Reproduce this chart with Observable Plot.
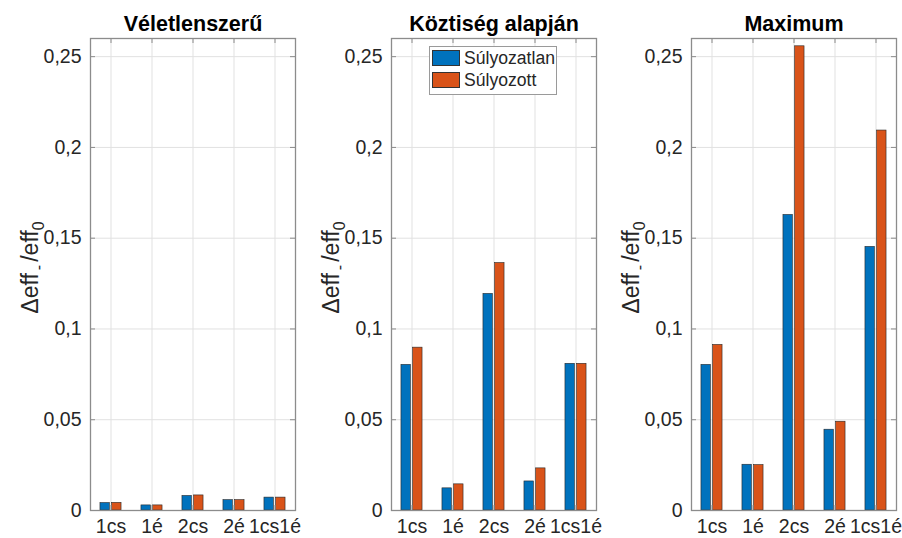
<!DOCTYPE html>
<html>
<head>
<meta charset="utf-8">
<script src="https://cdn.jsdelivr.net/npm/d3@7"></script>
<script src="https://cdn.jsdelivr.net/npm/@observablehq/plot@0.6"></script>
<style>
  body { margin: 0; background: #fff; }
  #fig { position: relative; width: 902px; height: 538px; font-family: "Liberation Sans", Arial, sans-serif; overflow: hidden; }
  #fig svg { position: absolute; top: 0; }
  .legend { position: absolute; left: 429px; top: 46px; width: 126px; height: 47px; border: 1px solid #9a9a9a; background: #fff; }
  .legend .sw { position: absolute; left: 2px; width: 28px; height: 16px; border: 1px solid #333; box-sizing: border-box; }
  .legend .lab { position: absolute; left: 34px; font-size: 17.6px; line-height: 18px; color: #262626; white-space: nowrap; }
</style>
</head>
<body>
<div id="fig"></div>
<script>
// ---- data ----
const categories = ["1cs", "1é", "2cs", "2é", "1cs1é"];
const seriesNames = ["Súlyozatlan", "Súlyozott"];
const seriesColors = ["#0072BD", "#D95319"];
const panelTitles = ["Véletlenszerű", "Köztiség alapján", "Maximum"];

const randomUnweighted     = [0.0041, 0.0028, 0.0080, 0.0057, 0.0071];
const randomWeighted       = [0.0042, 0.0028, 0.0083, 0.0057, 0.0071];
const centralityUnweighted = [0.0802, 0.0122, 0.1193, 0.0160, 0.0808];
const centralityWeighted   = [0.0897, 0.0144, 0.1363, 0.0232, 0.0808];
const maximumUnweighted    = [0.0802, 0.0252, 0.1628, 0.0445, 0.1452];
const maximumWeighted      = [0.0912, 0.0250, 0.2557, 0.0489, 0.2093];

const yTicks = [0, 0.05, 0.1, 0.15, 0.2, 0.25];
const yTickLabels = ["0", "0,05", "0,1", "0,15", "0,2", "0,25"];

// ---- layout ----
const W = 300, H = 538, ML = 90, MR = 5, MT = 38, MB = 28;
const innerW = W - ML - MR, innerH = H - MT - MB;
const tickLen = 5;
const groupOffset = 0.1428, barHalf = 0.1143;
const axisColor = "#8c8c8c", gridColor = "#e1e1e1", textColor = "#262626";
const xPos = categories.map((c, i) => i + 1);

const fig = document.getElementById("fig");

function panel(title, unweighted, weighted, left) {
  const rows = [];
  categories.forEach((c, i) => {
    rows.push({i: i + 1, s: 0, v: unweighted[i]});
    rows.push({i: i + 1, s: 1, v: weighted[i]});
  });
  const svg = Plot.plot({
    width: W, height: H,
    marginLeft: ML, marginRight: MR, marginTop: MT, marginBottom: MB,
    style: {fontFamily: '"Liberation Sans", Arial, sans-serif', background: "transparent", overflow: "visible"},
    x: {domain: [0.5, 5.5], axis: null},
    y: {domain: [0, 0.26], axis: null},
    marks: [
      Plot.gridY(yTicks, {stroke: gridColor, strokeOpacity: 1}),
      Plot.gridX(xPos, {stroke: gridColor, strokeOpacity: 1}),
      Plot.rectY(rows, {
        x1: d => d.i + (d.s === 0 ? -groupOffset : groupOffset) - barHalf,
        x2: d => d.i + (d.s === 0 ? -groupOffset : groupOffset) + barHalf,
        y1: 0, y2: "v",
        fill: d => seriesColors[d.s],
        stroke: "#262626", strokeWidth: 0.6
      }),
      // inward ticks on all sides
      Plot.tickY(yTicks, {y: d => d, stroke: axisColor, insetRight: innerW - tickLen}),
      Plot.tickY(yTicks, {y: d => d, stroke: axisColor, insetLeft: innerW - tickLen}),
      Plot.tickX(xPos, {x: d => d, stroke: axisColor, insetTop: innerH - tickLen}),
      Plot.tickX(xPos, {x: d => d, stroke: axisColor, insetBottom: innerH - tickLen}),
      Plot.frame({stroke: axisColor, strokeWidth: 1.3}),
      // tick labels
      Plot.text(yTicks, {y: d => d, text: (d, i) => yTickLabels[i], frameAnchor: "left", dx: -9,
        textAnchor: "end", lineAnchor: "middle", fontSize: 19.5, fill: textColor}),
      Plot.text(xPos, {x: d => d, text: (d, i) => categories[i], frameAnchor: "bottom", dy: 9,
        lineAnchor: "top", fontSize: 19.5, fill: textColor}),
      // title
      Plot.text([title], {frameAnchor: "top", dy: -23, lineAnchor: "top", fontSize: 21.5,
        fontWeight: "bold", fill: "#000"}),
      // y label (placeholder, replaced with tspans)
      Plot.text(["YLABEL"], {frameAnchor: "left", dx: -60, dy: -7, rotate: -90,
        lineAnchor: "middle", textAnchor: "middle", fontSize: 23, fill: textColor})
    ]
  });
  svg.style.left = left + "px";
  d3.select(svg).selectAll("text").filter(function() { return this.textContent === "YLABEL"; })
    .each(function() {
      const t = d3.select(this);
      t.text(null);
      t.append("tspan").text("Δeff");
      t.append("tspan").attr("font-size", "16px").attr("dx", "3px").attr("dy", "6px").text("-");
      t.append("tspan").attr("dx", "3px").attr("dy", "-6px").text("/eff");
      t.append("tspan").attr("font-size", "16px").attr("dy", "6px").text("0");
    });
  fig.appendChild(svg);
}

panel(panelTitles[0], randomUnweighted, randomWeighted, 0);
panel(panelTitles[1], centralityUnweighted, centralityWeighted, 301);
panel(panelTitles[2], maximumUnweighted, maximumWeighted, 601);

// legend (in the middle panel)
const legend = document.createElement("div");
legend.className = "legend";
seriesNames.forEach((name, k) => {
  const sw = document.createElement("div");
  sw.className = "sw";
  sw.style.top = (3 + k * 22) + "px";
  sw.style.background = seriesColors[k];
  legend.appendChild(sw);
  const lab = document.createElement("div");
  lab.className = "lab";
  lab.style.top = (2 + k * 22) + "px";
  lab.textContent = name;
  legend.appendChild(lab);
});
fig.appendChild(legend);
</script>
</body>
</html>
